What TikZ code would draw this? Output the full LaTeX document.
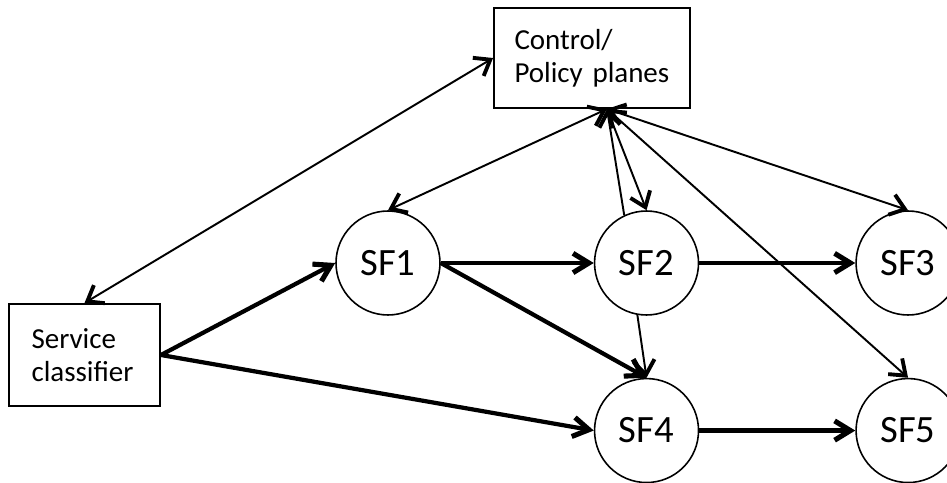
\documentclass[tikz,border=0pt]{standalone}
\usepackage{fontspec}
\setmainfont{Carlito}
\usetikzlibrary{positioning,arrows.meta}

\tikzset{
  sfnode/.style={circle,draw,line width=0.9pt,minimum size=2.08cm,inner sep=0pt,
    font=\fontsize{22}{26}\selectfont},
  boxnode/.style={rectangle,draw,line width=1.1pt,align=left,
    font=\fontsize{16.5}{19}\selectfont},
  thinarrow/.style={line width=1.1pt,-{Straight Barb[length=8pt,width=12pt,line width=2.2pt]}},
  bothways/.style={line width=1.1pt,{Straight Barb[length=8pt,width=12pt,line width=2.2pt]}-{Straight Barb[length=8pt,width=12pt,line width=2.2pt]}},
  flow/.style={line width=2.4pt,-{Straight Barb[length=9pt,width=11pt,line width=2.9pt]}},
}

\begin{document}
\begin{tikzpicture}[x=0.02cm,y=-0.02cm]
\useasboundingbox (0,0) rectangle (947,483);

\node[boxnode,minimum height=2cm,inner xsep=0.41cm,text width=3.1cm] (cp) at (592,58) {
Control/\\
Policy planes
};
\node[boxnode,minimum height=2.04cm,inner xsep=0.45cm,text width=2.12cm] (sc) at (84.5,355) {
Service\\
classifier
};

\node[sfnode] (sf1) at (388,263) {SF1};
\node[sfnode,right=3.06cm of sf1] (sf2) {SF2};
\node[sfnode,right=3.12cm of sf2] (sf3) {SF3};
\node[sfnode,below=1.24cm of sf2] (sf4) {SF4};
\node[sfnode,right=3.12cm of sf4] (sf5) {SF5};

\coordinate (hub) at ([xshift=0.3cm]cp.south);

% control links
\draw[bothways] (sc.north) -- (cp.west);
\draw[bothways] (sf1.north) -- (hub);
\draw[thinarrow] (hub) -- (sf2.north);
\draw[thinarrow] (sf2.115) -- (hub);
\draw[bothways] (hub) -- (sf3.north);
\draw[bothways] (hub) -- (sf5.north);
\draw[thinarrow] (sf2.260) -- (sf4.north);

% service paths
\draw[flow] (sc.east) -- (sf1.west);
\draw[flow] (sc.east) -- (sf4.west);
\draw[flow] (sf1.east) -- (sf2.west);
\draw[flow] (sf1.east) -- (sf4.north);
\draw[flow] (sf2.east) -- (sf3.west);
\draw[flow] (sf4.east) -- (sf5.west);
\end{tikzpicture}
\end{document}
